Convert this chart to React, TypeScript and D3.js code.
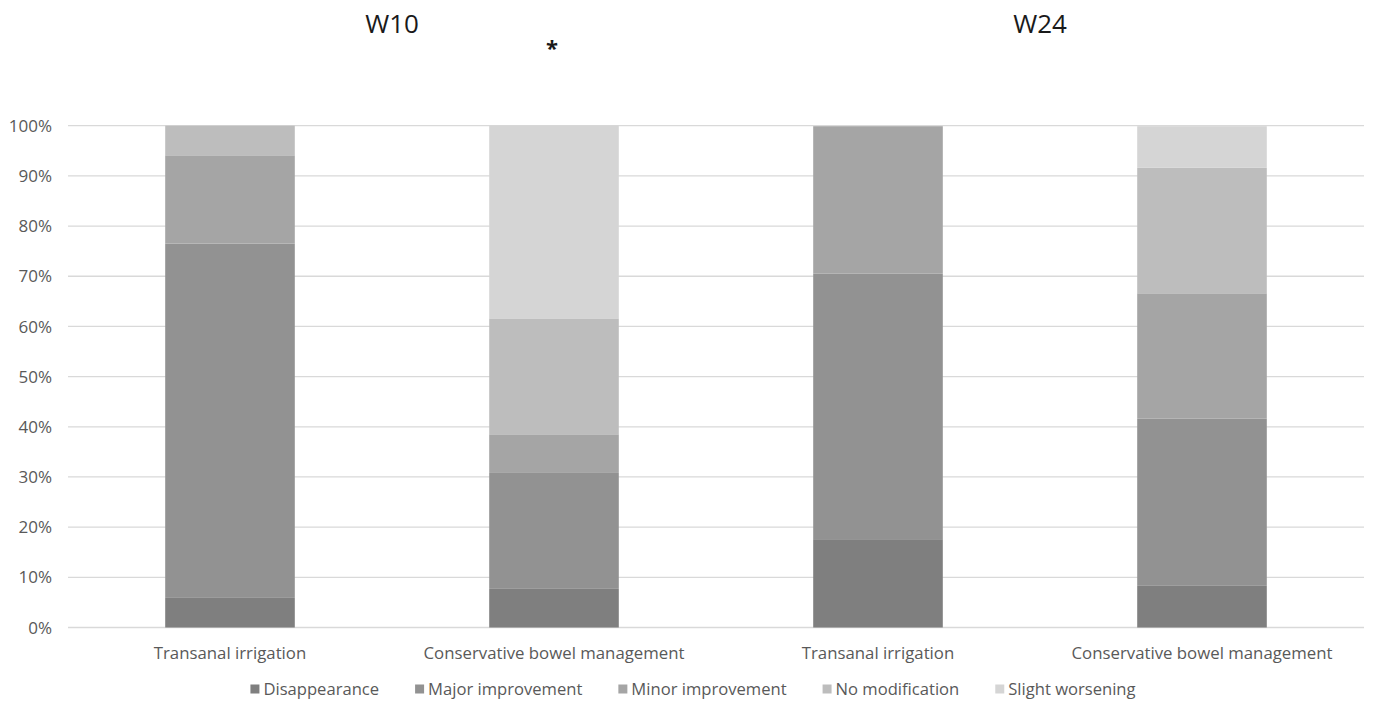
import React, { useEffect, useRef } from "react";
import * as d3 from "d3";

const categories = [
  "Transanal irrigation",
  "Conservative bowel management",
  "Transanal irrigation",
  "Conservative bowel management",
];
const seriesNames = [
  "Disappearance",
  "Major improvement",
  "Minor improvement",
  "No modification",
  "Slight worsening",
];
// Percentages per bar (W10 TAI, W10 CBM, W24 TAI, W24 CBM)
const disappearance = [5.9, 7.7, 17.6, 8.3];
const majorImprovement = [70.6, 23.1, 52.9, 33.3];
const minorImprovement = [17.6, 7.7, 29.4, 25.0];
const noModification = [5.9, 23.1, 0, 25.0];
const slightWorsening = [0, 38.5, 0, 8.3];
const yTicks = [0, 10, 20, 30, 40, 50, 60, 70, 80, 90, 100];
const groupTitles = ["W10", "W24"];
const colors = ["#7f7f7f", "#929292", "#a5a5a5", "#bdbdbd", "#d5d5d5"];

const W = 1375;
const H = 704;
const FONT = "'Open Sans', 'Noto Sans', sans-serif";

export default function App() {
  const ref = useRef<SVGSVGElement>(null);

  useEffect(() => {
    const svg = d3.select(ref.current);
    svg.selectAll("*").remove();

    const left = 68,
      right = 1364,
      top = 125.7,
      bottom = 627.5;

    const x = d3
      .scaleBand<number>()
      .domain(categories.map((_, i) => i))
      .range([left, right])
      .padding(0);
    const y = d3.scaleLinear().domain([0, 100]).range([bottom, top]);
    const barW = x.bandwidth() * 0.4;

    // gridlines
    svg
      .append("g")
      .selectAll("line")
      .data(yTicks)
      .join("line")
      .attr("x1", left)
      .attr("x2", right)
      .attr("y1", (d) => y(d))
      .attr("y2", (d) => y(d))
      .attr("stroke", "#d9d9d9")
      .attr("stroke-width", 1.3);

    // y tick labels
    svg
      .append("g")
      .selectAll("text")
      .data(yTicks)
      .join("text")
      .attr("x", 52)
      .attr("y", (d) => y(d))
      .attr("dy", "0.36em")
      .attr("text-anchor", "end")
      .attr("font-family", FONT)
      .attr("font-size", 17)
      .attr("fill", "#595959")
      .text((d) => `${d}%`);

    // stacked data
    const rows = categories.map((_, i) => ({
      i,
      s0: disappearance[i],
      s1: majorImprovement[i],
      s2: minorImprovement[i],
      s3: noModification[i],
      s4: slightWorsening[i],
    }));
    const stack = d3.stack<any>().keys(["s0", "s1", "s2", "s3", "s4"]);
    const stacked = stack(rows);

    svg
      .append("g")
      .selectAll("g")
      .data(stacked)
      .join("g")
      .attr("fill", (_, k) => colors[k])
      .selectAll("rect")
      .data((d) => d)
      .join("rect")
      .attr("x", (d: any) => (x(d.data.i) as number) + (x.bandwidth() - barW) / 2)
      .attr("width", barW)
      .attr("y", (d) => y(Math.min(100, d[1])))
      .attr("height", (d) => Math.max(0, y(d[0]) - y(Math.min(100, d[1]))));

    // category labels
    svg
      .append("g")
      .selectAll("text")
      .data(categories)
      .join("text")
      .attr("x", (_, i) => (x(i) as number) + x.bandwidth() / 2)
      .attr("y", 659)
      .attr("text-anchor", "middle")
      .attr("font-family", FONT)
      .attr("font-size", 16.8)
      .attr("fill", "#595959")
      .text((d) => d);

    // group titles
    groupTitles.forEach((t, g) => {
      const cx =
        ((x(g * 2) as number) + (x(g * 2 + 1) as number) + x.bandwidth()) / 2;
      svg
        .append("text")
        .attr("x", cx)
        .attr("y", 33)
        .attr("text-anchor", "middle")
        .attr("font-family", FONT)
        .attr("font-size", 26)
        .attr("fill", "#1a1a1a")
        .text(t);
    });

    // significance star over W10 conservative
    svg
      .append("text")
      .attr("x", (x(1) as number) + x.bandwidth() / 2 - 2)
      .attr("y", 56)
      .attr("text-anchor", "middle")
      .attr("font-family", FONT)
      .attr("font-weight", "bold")
      .attr("font-size", 22)
      .attr("fill", "#1a1a1a")
      .text("*");

    // legend
    const lg = svg.append("g");
    let cursor = 0;
    const gap = 36;
    const sq = 9;
    seriesNames.forEach((name, k) => {
      const item = lg.append("g").attr("transform", `translate(${cursor},0)`);
      item
        .append("rect")
        .attr("x", 0)
        .attr("y", 689 - sq / 2)
        .attr("width", sq)
        .attr("height", sq)
        .attr("fill", colors[k]);
      const txt = item
        .append("text")
        .attr("x", sq + 4)
        .attr("y", 689)
        .attr("dy", "0.36em")
        .attr("font-family", FONT)
        .attr("font-size", 16.6)
        .attr("fill", "#595959")
        .text(name);
      const tw = (txt.node() as SVGTextElement).getComputedTextLength();
      cursor += sq + 4 + tw + gap;
    });
    const total = cursor - gap;
    lg.attr("transform", `translate(${693 - total / 2},0)`);
  }, []);

  return (
    <div style={{ position: "absolute", left: 0, top: 0 }}>
      <svg ref={ref} width={W} height={H} style={{ display: "block", background: "#fff" }} />
    </div>
  );
}
